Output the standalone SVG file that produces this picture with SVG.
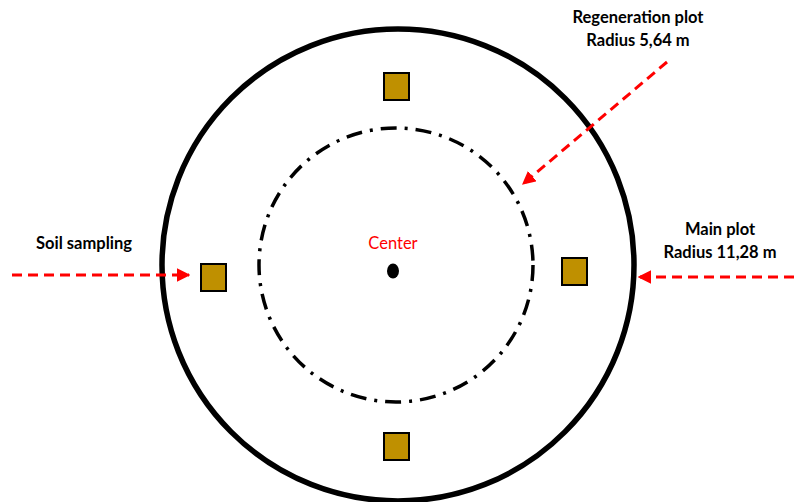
<svg xmlns="http://www.w3.org/2000/svg" width="796" height="502" viewBox="0 0 796 502">
<defs>
<style>
.lbl{font-family:Lato,"Liberation Sans",sans-serif;font-weight:bold;font-size:16.5px;fill:#000;text-anchor:middle}
.ctr{font-family:Lato,"Liberation Sans",sans-serif;font-size:16.5px;fill:#FF0000;text-anchor:middle}
.sq{fill:#BF9000;stroke:#000;stroke-width:2}
.arr{stroke:#FF0000;stroke-width:3;stroke-dasharray:10 6;fill:none}
</style>
<marker id="ah" viewBox="0 0 10 10" refX="9" refY="5" markerWidth="4.5" markerHeight="4.5" orient="auto" markerUnits="strokeWidth">
<path d="M0,0 L10,5 L0,10 z" fill="#FF0000"/>
</marker>
</defs>
<rect width="796" height="502" fill="#fff"/>
<g id="main-plot"><circle cx="398" cy="265" r="236" fill="none" stroke="#000" stroke-width="5.5"/></g>
<g id="regeneration-plot"><circle cx="396" cy="265" r="137" fill="none" stroke="#000" stroke-width="3.5" stroke-dasharray="16 8 3 8"/></g>
<g id="center"><ellipse cx="393" cy="271" rx="6" ry="7.5" fill="#000"/><text class="ctr" x="393" y="249">Center</text></g>
<g id="sample-top"><rect class="sq" x="384" y="73" width="25" height="27"/></g>
<g id="sample-bottom"><rect class="sq" x="384" y="433" width="25" height="27"/></g>
<g id="sample-left"><rect class="sq" x="201" y="264" width="25" height="27"/></g>
<g id="sample-right"><rect class="sq" x="562" y="258" width="25" height="27"/></g>
<g id="label-regen"><text class="lbl" x="638" y="23">Regeneration plot</text><text class="lbl" x="638" y="46">Radius 5,64 m</text></g>
<g id="label-soil"><text class="lbl" x="84" y="249">Soil sampling</text></g>
<g id="label-main"><text class="lbl" x="720" y="235">Main plot</text><text class="lbl" x="720" y="258">Radius 11,28 m</text></g>
<g id="connectors">
<line class="arr" x1="12" y1="275" x2="189" y2="275" marker-end="url(#ah)"/>
<line class="arr" x1="794" y1="277" x2="639" y2="277" marker-end="url(#ah)"/>
<line class="arr" x1="667" y1="62" x2="523" y2="184" marker-end="url(#ah)"/>
</g>
</svg>
